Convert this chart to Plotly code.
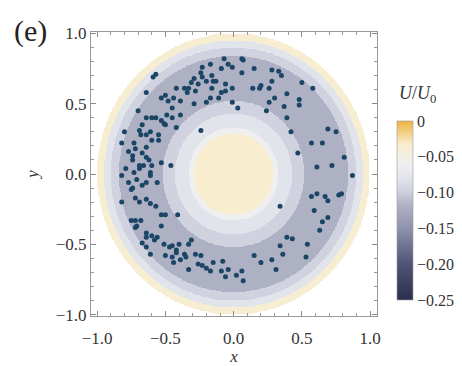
import numpy as np
import plotly.graph_objects as go

# Ring potential U/U0: piecewise-constant contour bands (outer radius, band value)
band_outer_r = [0.29, 0.33, 0.43, 0.52, 0.84, 0.90, 0.95, 1.00]
band_value = [-0.033, -0.06, -0.08, -0.097, -0.118, -0.097, -0.08, -0.035]

# Particle positions (x, y)
px = [
    0.07, -0.01, 0.06, 0.15, 0.28, 0.33, 0.35, 0.50, 0.58, 0.28, 0.26, 0.19, 0.14,
    0.30, 0.26, 0.39, 0.37, 0.48, 0.48, 0.03, 0.39, 0.42, 0.69, 0.75, 0.57, 0.65,
    0.47, 0.81, 0.61, 0.72, 0.87,
    0.57, 0.61, 0.67, 0.69, 0.77, 0.79, 0.34, 0.59, 0.69, 0.65, 0.63, 0.39, 0.43,
    0.34, 0.54, 0.15, 0.36, 0.20, 0.28, 0.53, 0.31, 0.06, 0.02, 0.07,
    -0.82, -0.75, -0.72, -0.69, -0.64, -0.61, -0.57, -0.53, -0.50, -0.41, -0.75,
    -0.72, -0.68, -0.71, -0.72, -0.53, -0.64, -0.60, -0.64, -0.56, -0.67, -0.64,
    -0.58, -0.51, -0.47, -0.45, -0.42, -0.40, -0.33, -0.31, -0.61, -0.50, -0.45,
    -0.44, -0.39, -0.35, -0.33, -0.28, -0.24, -0.26, -0.23, -0.20, -0.17, -0.15,
    -0.09, -0.08, -0.06, -0.04, -0.36, -0.42,
    -0.59, -0.57, -0.64, -0.70, -0.80, -0.82, -0.73, -0.72, -0.74, -0.77, -0.64,
    -0.67, -0.64, -0.62, -0.66, -0.69, -0.73, -0.61, -0.71, -0.64, -0.53, -0.46,
    -0.82, -0.79, -0.74, -0.69, -0.60, -0.61, -0.56, -0.77, -0.67, -0.74,
    -0.67, -0.64, -0.60, -0.57, -0.53, -0.51, -0.50, -0.49, -0.45, -0.45, -0.48,
    -0.53, -0.50, -0.44, -0.39, -0.42, -0.55, -0.55, -0.60, -0.61, -0.64, -0.68,
    -0.69, -0.24,
    -0.34, -0.33, -0.31, -0.28, -0.26, -0.29, -0.23, -0.24, -0.17, -0.16, -0.13,
    -0.09, -0.04, -0.07, -0.36, -0.39, -0.29, -0.20, -0.11, -0.16, -0.06, -0.06,
    -0.42, 0.06, -0.23, -0.20, -0.15, -0.09, -0.01, -0.01, 0.20, 0.24, -0.17,
]
py = [
    0.81, 0.76, 0.72, 0.75, 0.74, 0.73, 0.70, 0.65, 0.61, 0.66, 0.61, 0.61, 0.61,
    0.54, 0.51, 0.57, 0.48, 0.53, 0.49, 0.47, 0.40, 0.30, 0.32, 0.30, 0.22, 0.22,
    0.15, 0.12, 0.05, 0.06, -0.01,
    -0.16, -0.14, -0.16, -0.19, -0.15, -0.14, -0.23, -0.26, -0.31, -0.34, -0.40,
    -0.45, -0.46, -0.51, -0.50, -0.58, -0.57, -0.63, -0.61, -0.59, -0.68, -0.69,
    -0.72, -0.76,
    -0.20, -0.11, -0.17, -0.20, -0.18, -0.21, -0.23, -0.29, -0.29, -0.29, -0.33,
    -0.33, -0.33, -0.37, -0.38, -0.37, -0.42, -0.44, -0.45, -0.45, -0.49, -0.52,
    -0.47, -0.50, -0.52, -0.51, -0.54, -0.50, -0.50, -0.47, -0.57, -0.58, -0.59,
    -0.63, -0.61, -0.59, -0.68, -0.57, -0.58, -0.64, -0.65, -0.67, -0.69, -0.63,
    -0.69, -0.62, -0.73, -0.68, -0.57, -0.56,
    0.69, 0.71, 0.58, 0.45, 0.30, 0.22, 0.22, 0.18, 0.13, 0.16, 0.19,
    0.15, 0.12, 0.10, 0.06, 0.04, 0.01, -0.01, -0.04, -0.06, 0.08, 0.06,
    -0.01, 0.04, 0.10, 0.06, 0.06, 0.01, -0.06, -0.06, -0.08, -0.10,
    0.35, 0.40, 0.40, 0.40, 0.38, 0.36, 0.35, 0.42, 0.40, 0.47, 0.52,
    0.54, 0.56, 0.54, 0.42, 0.33, 0.28, 0.24, 0.24, 0.30, 0.28, 0.28,
    0.31, 0.31,
    0.58, 0.61, 0.65, 0.59, 0.64, 0.68, 0.69, 0.72, 0.78, 0.70, 0.66,
    0.75, 0.78, 0.82, 0.61, 0.52, 0.50, 0.51, 0.54, 0.61, 0.64, 0.59,
    0.61, 0.82, 0.76, 0.66, 0.66, 0.58, 0.61, 0.51, 0.63, 0.45, 0.54,
]

# Colour scale of U/U0 from -0.25 (navy) up to 0 (gold)
cscale = [
    [0.00, "#2b2f4d"],
    [0.20, "#4f5477"],
    [0.40, "#8f92ac"],
    [0.528, "#aeb1c4"],
    [0.612, "#d0d3df"],
    [0.68, "#e2e4ec"],
    [0.76, "#efefef"],
    [0.868, "#f8edcf"],
    [1.00, "#f0b440"],
]
cbar_vals = [0, -0.05, -0.10, -0.15, -0.20, -0.25]
cbar_text = ["0", "\u22120.05", "\u22120.10", "\u22120.15", "\u22120.20", "\u22120.25"]

# Sample the banded field on a grid; NaN outside the unit disk
g = np.linspace(-1.05, 1.05, 421)
X, Y = np.meshgrid(g, g)
R = np.hypot(X, Y)
idx = np.searchsorted(np.array(band_outer_r), R, side="left")
vals = np.array(band_value + [np.nan])
Z = vals[np.clip(idx, 0, len(band_value))]

serif = "Liberation Serif, serif"
fig = go.Figure()
fig.add_trace(go.Heatmap(
    x=g, y=g, z=Z, zmin=-0.25, zmax=0, colorscale=cscale, zsmooth=False,
    hoverinfo="skip",
    colorbar=dict(
        thickness=16, len=179, lenmode="pixels", x=1.066, xanchor="left",
        y=0.3715, yanchor="middle", xpad=0, ypad=0,
        outlinewidth=0.6, outlinecolor="#9a9aa0",
        tickvals=cbar_vals, ticktext=cbar_text, ticks="",
        tickfont=dict(family=serif, size=16, color="#333"),
    ),
))
fig.add_trace(go.Scatter(
    x=px, y=py, mode="markers", hoverinfo="skip",
    marker=dict(size=5, color="#1b4565", line=dict(width=0)),
))

axis_common = dict(
    showgrid=False, zeroline=False, showline=True, linecolor="#9a9a9a", linewidth=1,
    mirror="ticks", ticks="inside", ticklen=5, tickcolor="#888", tickwidth=1,
    dtick=0.5, tick0=0, tickformat=".1f", automargin=False,
    minor=dict(ticks="inside", dtick=0.1, ticklen=3, tickcolor="#999"),
    tickfont=dict(family=serif, size=17, color="#333"),
)
fig.update_xaxes(range=[-1.045, 1.05], **axis_common, ticklabelstandoff=7,
                 title=dict(text="<i>x</i>", font=dict(family=serif, size=17, color="#333"), standoff=0))
fig.update_yaxes(range=[-1.01, 1.01], **axis_common,
                 title=dict(text="<i>y</i>", font=dict(family=serif, size=17, color="#333"), standoff=12))

fig.add_annotation(text="(e)", xref="paper", yref="paper", x=-0.275, y=1.005,
                   xanchor="left", yanchor="middle", showarrow=False,
                   font=dict(family=serif, size=30, color="#222"))
fig.add_annotation(text="<i>U</i>/<i>U</i><sub>0</sub>", xref="paper", yref="paper",
                   x=1.07, y=0.78, xanchor="left", yanchor="middle", showarrow=False,
                   font=dict(family=serif, size=18, color="#333"))

fig.update_layout(
    width=462, height=366, margin=dict(l=91, r=84, t=32, b=50),
    paper_bgcolor="white", plot_bgcolor="white", showlegend=False,
)
fig.write_html("out.html")
